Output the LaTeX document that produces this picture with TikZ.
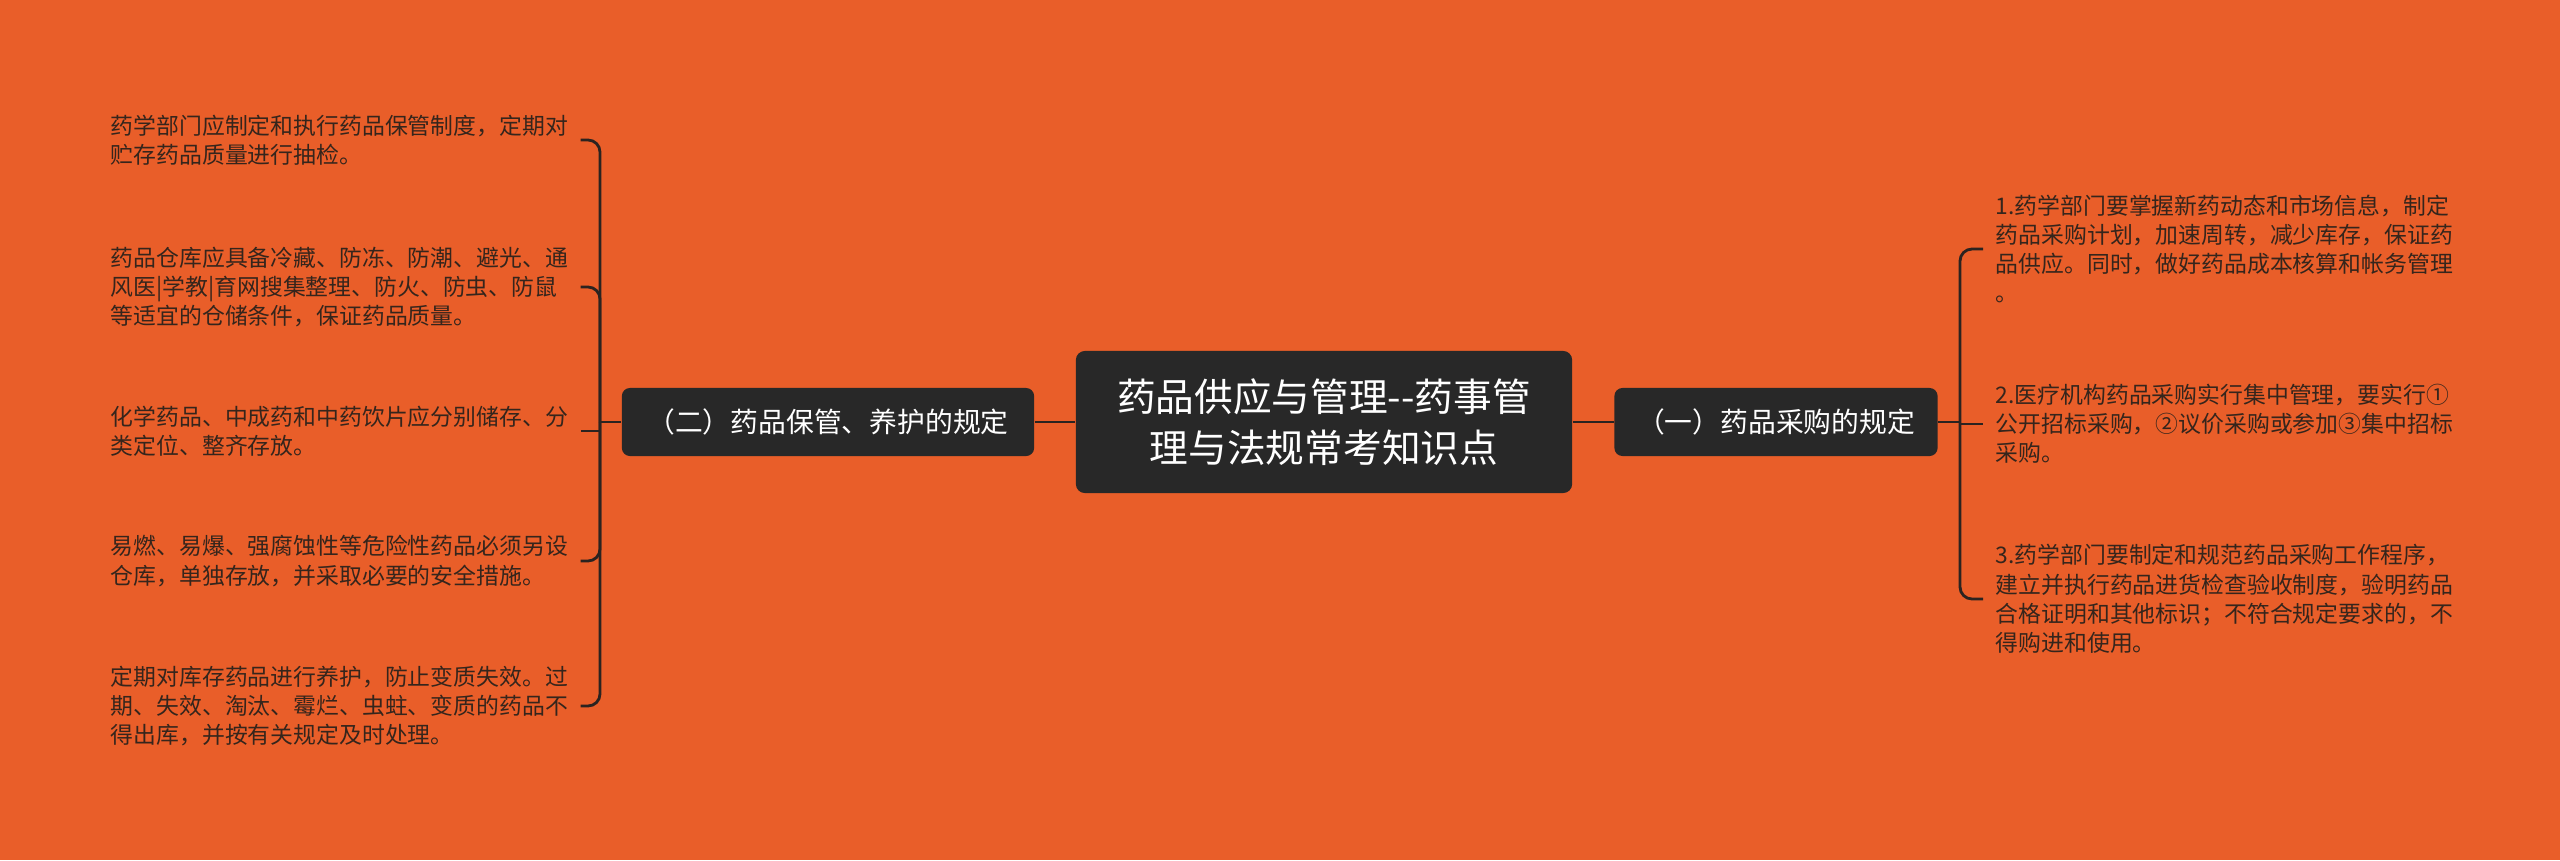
\documentclass[tikz,border=0pt]{standalone}
\usepackage{fontspec}
\setmainfont{Noto Sans CJK SC}
\definecolor{bgorange}{HTML}{E95E29}
\definecolor{boxgray}{HTML}{282828}
\definecolor{linegray}{HTML}{2B2320}
\definecolor{leaftext}{HTML}{35251C}

\begin{document}
\begin{tikzpicture}[x=0.01cm,y=-0.01cm,
    topic/.style={fill=boxgray,text=white,rounded corners=0.08cm,inner sep=0pt,minimum height=0.68cm,font=\fontsize{7.9}{9.5}\selectfont},
    root/.style={fill=boxgray,text=white,rounded corners=0.09cm,inner sep=0pt,minimum width=4.96cm,minimum height=1.42cm,align=center,font=\fontsize{11}{14.5}\selectfont},
    leaf/.style={anchor=west,align=left,inner xsep=0.12cm,inner ysep=0pt,text=leaftext,font=\fontsize{6.5}{8.3}\selectfont},
    link/.style={draw=linegray,line width=0.8pt,rounded corners=0.12cm}]
    \fill[bgorange](0,0)rectangle(2560,860);
    \useasboundingbox(0,0)rectangle(2560,860);
    % centre and the two topics
    \node[root](root)at(1324,422){药品供应与管理{-}{-}药事管\\理与法规常考知识点};
    \node[topic,minimum width=4.12cm](sto)at(828,422){（二）药品保管、养护的规定};
    \node[topic,minimum width=3.23cm](buy)at(1776,422){（一）药品采购的规定};
    % left leaves
    \node[leaf](s1)at(98,140){药学部门应制定和执行药品保管制度，定期对\\贮存药品质量进行抽检。};
    \node[leaf](s2)at(98,287){药品仓库应具备冷藏、防冻、防潮、避光、通\\风医|学教|育网搜集整理、防火、防虫、防鼠\\等适宜的仓储条件，保证药品质量。};
    \node[leaf](s3)at(98,431){化学药品、中成药和中药饮片应分别储存、分\\类定位、整齐存放。};
    \node[leaf](s4)at(98,561){易燃、易爆、强腐蚀性等危险性药品必须另设\\仓库，单独存放，并采取必要的安全措施。};
    \node[leaf](s5)at(98,706){定期对库存药品进行养护，防止变质失效。过\\期、失效、淘汰、霉烂、虫蛀、变质的药品不\\得出库，并按有关规定及时处理。};
    % right leaves
    \node[leaf](b1)at(1983,249){1.药学部门要掌握新药动态和市场信息，制定\\药品采购计划，加速周转，减少库存，保证药\\品供应。同时，做好药品成本核算和帐务管理\\。};
    \node[leaf](b2)at(1983,424){2.医疗机构药品采购实行集中管理，要实行①\\公开招标采购，②议价采购或参加③集中招标\\采购。};
    \node[leaf](b3)at(1983,599){3.药学部门要制定和规范药品采购工作程序，\\建立并执行药品进货检查验收制度，验明药品\\合格证明和其他标识；不符合规定要求的，不\\得购进和使用。};
    \coordinate(sj)at(600,422);
    \coordinate(bj)at(1960,422);
    \draw[link](sto.east)--(root.west);
    \draw[link](root.east)--(buy.west);
    \draw[link](sto.west)--(sj);
    \draw[link](buy.east)--(bj);
    \foreach \n in {s1,s2,s4,s5}
        \draw[link](sj)|-(\n.east);
    \draw[link,sharp corners](sj)|-(s3.east);
    \foreach \n in {b1,b3}
        \draw[link](bj)|-(\n.west);
    \draw[link,sharp corners](bj)|-(b2.west);
\end{tikzpicture}
\end{document}
